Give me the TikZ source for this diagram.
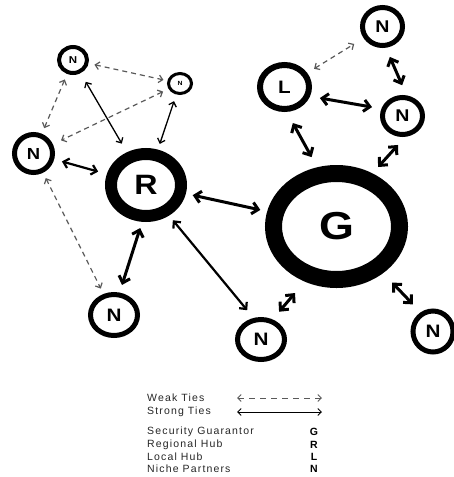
\documentclass[tikz,border=0pt]{standalone}
\usepackage{fontspec}
\setmainfont{Liberation Sans}
\newfontfamily\legendfont[LetterSpace=11]{Liberation Sans}
\usetikzlibrary{arrows.meta}
\usetikzlibrary{shapes.geometric}
\newcommand{\hubtext}[2]{\scalebox{1.15}[1]{\fontsize{#1}{#1}\selectfont\bfseries #2}}

\begin{document}
\begin{tikzpicture}[x=1pt,y=-1pt,>={Straight Barb[length=2.5pt 1.2,width=5pt 2.2]},
		hub/.style={ellipse,draw,inner sep=0pt},
		gap/.style 2 args={shorten <=#1,shorten >=#2},
		weak/.style={<->,black!65,line width=1.2pt,dash pattern=on 5pt off 4pt},
		thin tie/.style={<->,line width=1.3pt},
		mid tie/.style={<->,line width=2.2pt},
		strong/.style={<->,line width=3pt},
		key/.style={anchor=west,inner sep=0pt,black!85,font=\legendfont\fontsize{10.5}{12}\selectfont},
		keyletter/.style={inner sep=0pt,font=\bfseries\fontsize{10.5}{12}\selectfont}]
			\useasboundingbox (0,0) rectangle (454,477);

			\node[hub,line width=4pt,minimum width=28pt,minimum height=26pt] (N1) at (73,60) {\hubtext{10}{N}};
			\node[hub,line width=3pt,minimum width=23pt,minimum height=20pt] (N2) at (180,83.5) {\hubtext{6}{N}};
			\node[hub,line width=5pt,minimum width=38pt,minimum height=38pt] (N3) at (33.5,153.5) {\hubtext{16}{N}};
			\node[hub,line width=12pt,minimum width=70pt,minimum height=62pt] (R) at (146,185) {\hubtext{28}{R}};
			\node[hub,line width=5pt,minimum width=47pt,minimum height=41pt] (N4) at (114,315) {\hubtext{18}{N}};
			\node[hub,line width=5pt,minimum width=47pt,minimum height=40pt] (N5) at (261,339.5) {\hubtext{18}{N}};
			\node[hub,line width=5pt,minimum width=40pt,minimum height=41pt] (N6) at (433,331.5) {\hubtext{18}{N}};
			\node[hub,line width=17pt,minimum width=126pt,minimum height=106pt] (G) at (336.5,226.5) {\hubtext{39}{G}};
			\node[hub,line width=6pt,minimum width=49pt,minimum height=44pt] (L) at (284.5,87) {\hubtext{18}{L}};
			\node[hub,line width=5pt,minimum width=40pt,minimum height=38pt] (N7) at (382.5,26.5) {\hubtext{17}{N}};
			\node[hub,line width=5pt,minimum width=40pt,minimum height=37pt] (N8) at (402.5,116) {\hubtext{17}{N}};

			\draw[weak,gap={6pt}{4pt}] (N1) -- (N2);
			\draw[weak,gap={6pt}{6pt}] (N1) -- (N3);
			\draw[weak,gap={6pt}{9pt}] (N2) -- (N3);
			\draw[weak,gap={6pt}{6pt}] (N3) -- (N4);
			\draw[weak,gap={8pt}{11pt}] (L) -- (N7);
			\draw[thin tie,gap={10pt}{10pt}] (N1) -- (R);
			\draw[thin tie,gap={7pt}{6pt}] (N2) -- (R);
			\draw[mid tie,gap={8pt}{9pt}] (N3) -- (R);
			\draw[mid tie,gap={6pt}{10pt}] (R.-53) -- (N5.109);
			\draw[strong,gap={6.5pt}{8pt}] (R.-96) -- (N4.76);
			\draw[strong,gap={7pt}{7pt}] (R) -- (G);
			\draw[strong,gap={15pt}{10pt}] (G.240) -- (N5.60);
			\draw[strong,gap={13pt}{11pt}] (G.-45) -- (N6.123);
			\draw[strong,gap={8.5pt}{11pt}] (G.56) -- (N8.-82);
			\draw[strong,gap={12.7pt}{11.6pt}] (L.-85) -- (G.108);
			\draw[strong,gap={10pt}{9.5pt}] (L.-20) -- (N8.161);
			\draw[strong,gap={10pt}{11pt}] (N7.-81) -- (N8.79);

			\node[key] (weaktext) at (147,398) {Weak Ties};
			\node[key] (strongtext) at (147,412) {Strong Ties};
			\coordinate (weakL) at (237,398);
			\coordinate (weakR) at (322,398);
			\coordinate (strongL) at (237,412);
			\coordinate (strongR) at (322,412);
			\draw[<->,black!65,line width=0.9pt,dash pattern=on 6pt off 5pt] (weakL) -- (weakR);
			\draw[<->,line width=0.9pt] (strongL) -- (strongR);

			\node[key] (keyG) at (147,432) {Security Guarantor};
			\node[key] (keyR) at (147,444.5) {Regional Hub};
			\node[key] (keyL) at (147,457) {Local Hub};
			\node[key] (keyN) at (147,469) {Niche Partners};
			\node[keyletter] (letterG) at (314,432) {G};
			\node[keyletter] (letterR) at (314,444.5) {R};
			\node[keyletter] (letterL) at (314,457) {L};
			\node[keyletter] (letterN) at (314,469) {N};
		\end{tikzpicture}
\end{document}
